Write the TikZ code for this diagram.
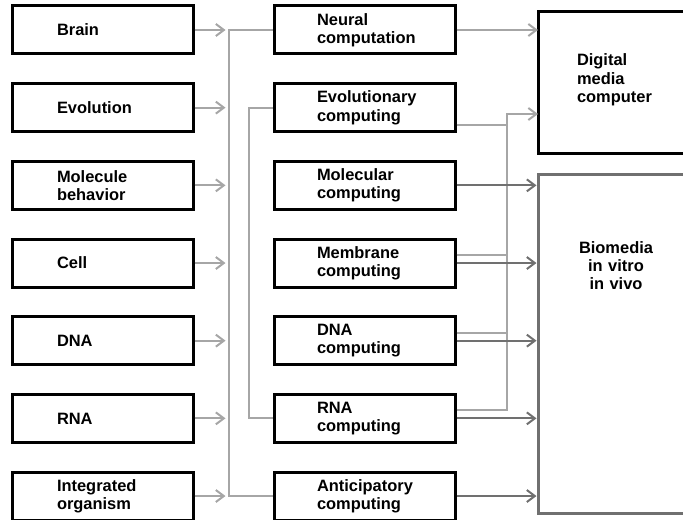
\documentclass[tikz,border=0pt]{standalone}
\usepackage{fontspec}
\setmainfont{Liberation Sans}
\usetikzlibrary{arrows.meta}
\hyphenpenalty=10000
\definecolor{lightline}{HTML}{A6A6A6}
\definecolor{darkline}{HTML}{707070}
\tikzstyle{source} = [rectangle, draw=black, line width=3bp, minimum height=48bp,
    text width=92bp, inner xsep=44bp, inner ysep=0pt, align=left,
    font={\fontsize{16.5}{18.5}\selectfont\bfseries}]
\tikzstyle{method} = [source, text width=95bp, inner xsep=43bp]
\tikzstyle{medium} = [rectangle, draw=black, line width=3bp, outer sep=0pt,
    text width=78bp, inner xsep=39bp, inner ysep=0pt, anchor=north west,
    font={\fontsize{16.5}{18.5}\selectfont\bfseries}]
\tikzstyle{feed} = [line width=2bp, draw=lightline, -{Straight Barb[length=8bp,width=12bp]}]
\tikzstyle{link} = [line width=2bp, draw=lightline]
\tikzstyle{result} = [line width=2bp, draw=darkline, shorten >=1.5bp,
    -{Straight Barb[length=8bp,width=12bp]}]
\begin{document}
\begin{tikzpicture}[x=1bp, y=1bp, node distance=77.67bp]
\useasboundingbox (0,0) rectangle (683,-520);

% Nature
\node (brain) [source] at (103,-30) {Brain};
\node (evolution) [source, below of=brain] {Evolution};
\node (molecule) [source, below of=evolution] {Molecule\\behavior};
\node (cell) [source, below of=molecule] {Cell};
\node (dna) [source, below of=cell] {DNA};
\node (rna) [source, below of=dna] {RNA};
\node (organism) [source, below of=rna] {Integrated\\organism};

% Computing
\node (neural) [method, right of=brain, xshift=183.83bp] {Neural\\computation};
\node (evolcomp) [method, below of=neural] {Evolutionary\\computing};
\node (molecomp) [method, below of=evolcomp] {Molecular\\computing};
\node (membrane) [method, below of=molecomp] {Membrane\\computing};
\node (dnacomp) [method, below of=membrane] {DNA\\computing};
\node (rnacomp) [method, below of=dnacomp] {RNA\\computing};
\node (anticipatory) [method, below of=rnacomp] {Anticipatory\\computing};

% Media
\node (digital) [medium, align=left, text height=54bp, text depth=87bp] at (538,-12) {Digital\\media\\computer};
\node (biomedia) [medium, draw=darkline, align=center, text height=78bp, text depth=260bp] at (538,-175) {Biomedia\\in vitro\\in vivo};

% Arrows
\foreach \n in {brain,evolution,molecule,cell,dna,rna,organism}
  \draw [feed] (\n.east) -- ++(31bp,0);

\draw [link] (neural.west) -- ++(-44bp,0) |- (anticipatory.west);
\draw [link] (evolcomp.west) -- ++(-24bp,0) |- (rnacomp.west);

\draw [feed] (neural.east) -- (neural.east -| digital.west);
\draw [link] ([yshift=-17bp]evolcomp.east) -- ++(50bp,0);
\draw [link] ([yshift=8bp]membrane.east) -- ++(50bp,0);
\draw [link] ([yshift=8bp]dnacomp.east) -- ++(50bp,0);
\draw [feed] ([yshift=8bp]rnacomp.east) -- ++(50bp,0) |- ([yshift=-31.5bp]digital.west);

\foreach \n in {molecomp,membrane,dnacomp,rnacomp,anticipatory}
  \draw [result] (\n.east) -- (\n.east -| biomedia.west);

\end{tikzpicture}
\end{document}
